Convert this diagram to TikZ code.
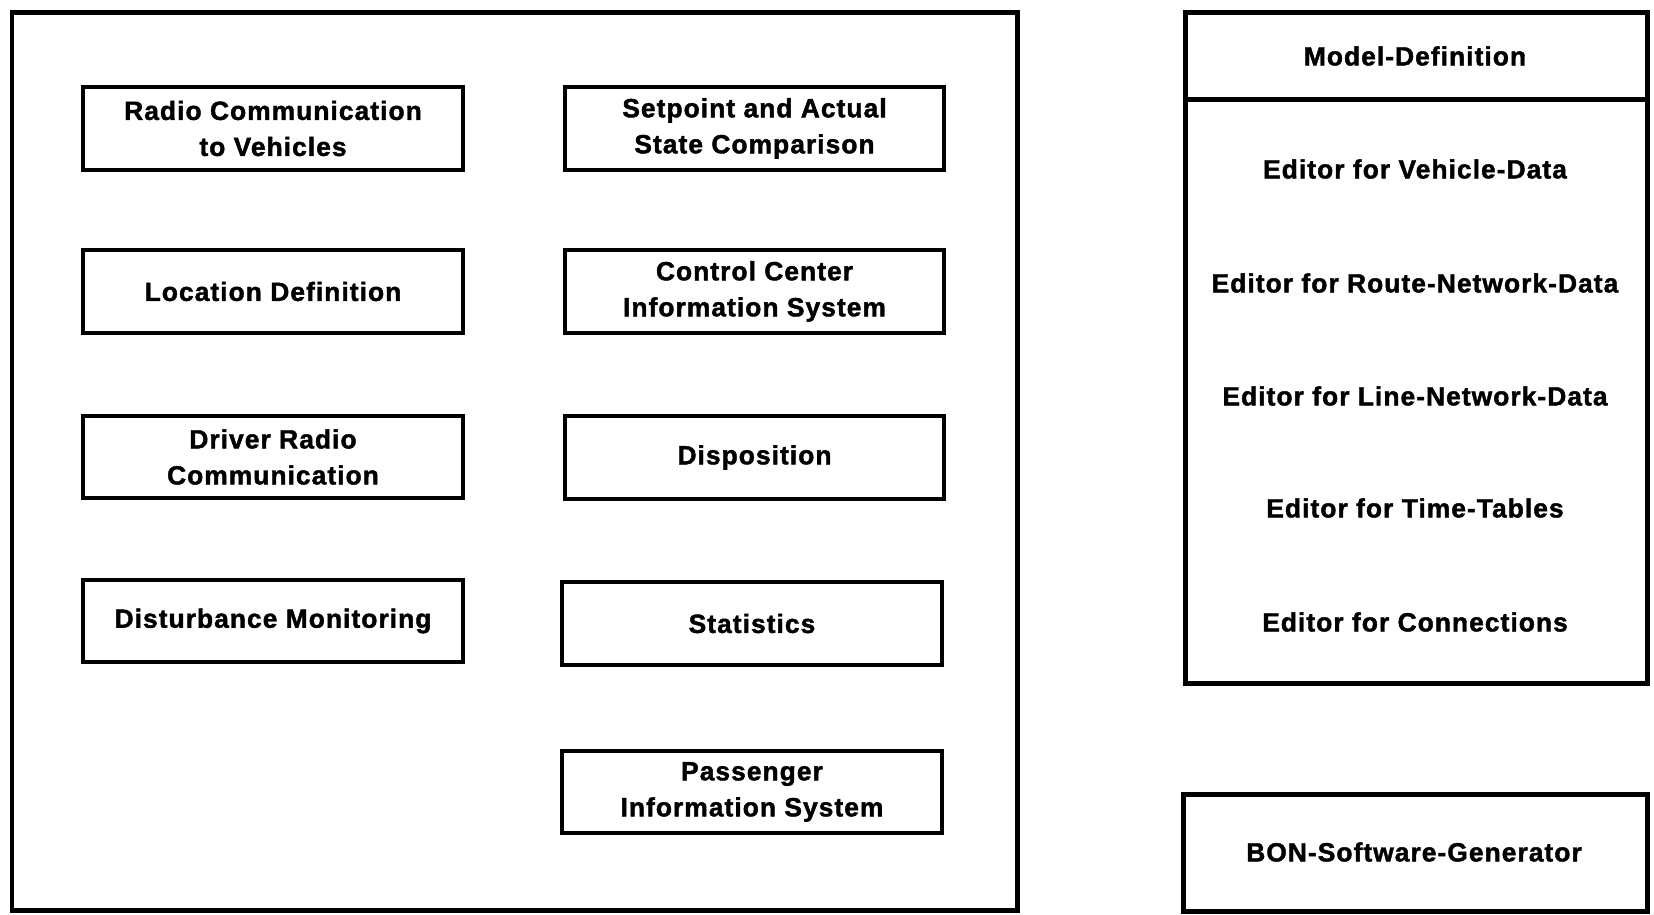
\documentclass[tikz,border=0pt]{standalone}
\usepackage{fontspec}
\newfontfamily\lblfont[LetterSpace=4,FakeBold=1.6]{Liberation Sans}
\newcommand{\lbl}{\lblfont\bfseries\fontsize{15}{20.5}\selectfont}
\begin{document}
\begin{tikzpicture}[x=0.02cm,y=-0.02cm,
    modbox/.style={draw,line width=0.08cm,minimum width=7.6cm,minimum height=1.66cm,
      align=center,inner sep=0pt,font=\lbl},
    frame/.style={line width=0.1cm},
    edlabel/.style={inner sep=0pt,font=\lbl}]
    \useasboundingbox (0,0) rectangle (1654,915);%

    % Frame of the control center
    \draw [frame] (12,13) rectangle (1017,910);%

    % Left column of modules
    \node [modbox] (radio) at (273,128.5) {Radio Communication\\to Vehicles};%
    \node [modbox] (location) at (273,291.5) {Location Definition};%
    \node [modbox] (driver) at (273,457) {Driver Radio\\Communication};%
    \node [modbox] (disturb) at (273,621) {Disturbance Monitoring};%

    % Right column of modules
    \node [modbox] (setpoint) at (754.5,128.5) {Setpoint and Actual\\State Comparison};%
    \node [modbox] (ccis) at (754.5,291.5) {Control Center\\Information System};%
    \node [modbox] (dispo) at (754.5,457.5) {Disposition};%
    \node [modbox] (stats) at (752,623.5) {Statistics};%
    \node [modbox] (passenger) at (752,792) {Passenger\\Information System};%

    % Frame of the model definition
    \draw [frame] (1185,13) rectangle (1647,683);%
    \draw [frame] (1185,100) -- (1647,100);%
    \node [edlabel] (modeldef) at (1415,56) {Model-Definition};%

    % Editors
    \node [edlabel] (edvehicle) at (1415,169) {Editor for Vehicle-Data};%
    \node [edlabel] (edroute) at (1415,283) {Editor for Route-Network-Data};%
    \node [edlabel] (edline) at (1415,396) {Editor for Line-Network-Data};%
    \node [edlabel] (edtime) at (1415,508) {Editor for Time-Tables};%
    \node [edlabel] (edconn) at (1415,622) {Editor for Connections};%

    % Software generator
    \draw [frame] (1183,794) rectangle (1647,911);%
    \node [edlabel] (bon) at (1414,852) {BON-Software-Generator};%
\end{tikzpicture}
\end{document}
